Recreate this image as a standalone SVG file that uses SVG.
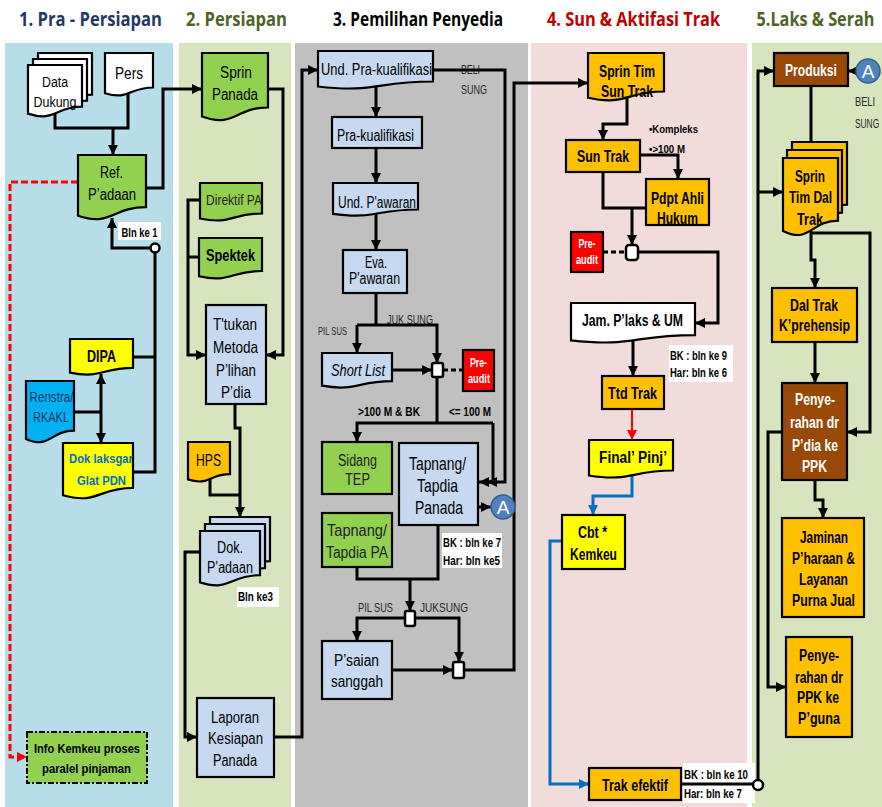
<svg xmlns="http://www.w3.org/2000/svg" width="882" height="807" viewBox="0 0 882 807">
<style>
.n{stroke:#000;stroke-width:2.2}
.g{fill:#92d050}.bl{fill:#c6d9f1}.o{fill:#ffc000}.y{fill:#ffff00}.w{fill:#fff}.r{fill:#ff0000}.br{fill:#984807}.cy{fill:#00b0f0}
.c{fill:none;stroke:#000;stroke-width:3}
.ca{marker-end:url(#ah)}
.t{font-family:"Liberation Sans",Arial,sans-serif;font-size:16px;text-anchor:middle;fill:#000}
.b{font-weight:bold}
.wt{fill:#fff}
.h{font-family:"Open Sans","Liberation Sans",sans-serif;font-size:20px;font-weight:bold;text-anchor:middle}
.lb{font-family:"Liberation Sans",Arial,sans-serif;font-size:12px;font-weight:bold;fill:#000}
.sm{font-family:"Liberation Sans",Arial,sans-serif;font-size:12px;fill:#262626}
.jn{fill:#fff;stroke:#000;stroke-width:2.5}
</style>
<defs>
<marker id="ah" viewBox="0 0 10 10" refX="10" refY="5" markerWidth="10" markerHeight="10" markerUnits="userSpaceOnUse" orient="auto-start-reverse"><path d="M0,0 L10,5 L0,10 z" fill="#000"/></marker>
<marker id="ahr" viewBox="0 0 10 10" refX="10" refY="5" markerWidth="10" markerHeight="10" markerUnits="userSpaceOnUse" orient="auto"><path d="M0,0 L10,5 L0,10 z" fill="#ff0000"/></marker>
<marker id="ahb" viewBox="0 0 10 10" refX="10" refY="5" markerWidth="10" markerHeight="10" markerUnits="userSpaceOnUse" orient="auto"><path d="M0,0 L10,5 L0,10 z" fill="#0070c0"/></marker>
</defs>

<!-- swimlane backgrounds -->
<rect x="0" y="0" width="882" height="807" fill="#fff"/>
<rect x="5" y="43" width="168" height="764" fill="#b7dde8"/>
<rect x="179" y="43" width="112" height="764" fill="#d7e4bd"/>
<rect x="295" y="43" width="233" height="764" fill="#c0c0c0"/>
<rect x="531" y="43" width="216" height="764" fill="#f2dcdb"/>
<rect x="752" y="43" width="130" height="764" fill="#d7e4bd"/>

<!-- lane headings -->
<text class="h" x="90.5" y="26" fill="#1f3864" textLength="143" lengthAdjust="spacingAndGlyphs">1. Pra - Persiapan</text>
<text class="h" x="236.5" y="26" fill="#4f6228" textLength="101" lengthAdjust="spacingAndGlyphs">2. Persiapan</text>
<text class="h" x="418" y="26" fill="#000" textLength="170" lengthAdjust="spacingAndGlyphs">3. Pemilihan Penyedia</text>
<text class="h" x="633.5" y="26" fill="#c00000" textLength="173" lengthAdjust="spacingAndGlyphs">4. Sun &amp; Aktifasi Trak</text>
<text class="h" transform="translate(815.5,26) scale(0.814,1)" x="0" y="0" fill="#4f6228" textLength="145" lengthAdjust="spacingAndGlyphs">5.Laks &amp; Serah</text>

<!-- timing labels -->
<g id="lbl-bln1"><rect x="118" y="222" width="43" height="18" fill="#fff"/><text class="lb" x="139.5" y="237" text-anchor="middle" textLength="36" lengthAdjust="spacingAndGlyphs">Bln ke 1</text></g>
<g id="lbl-bln3"><rect x="237" y="587" width="42" height="20" fill="#fff"/><text class="lb" x="255.5" y="601" text-anchor="middle" textLength="35" lengthAdjust="spacingAndGlyphs">Bln ke3</text></g>
<g id="lbl-bk7"><rect x="442" y="533" width="60" height="35" fill="#fff"/><text class="lb" x="443" y="547" textLength="58" lengthAdjust="spacingAndGlyphs">BK : bln ke 7</text><text class="lb" x="443" y="565" textLength="57" lengthAdjust="spacingAndGlyphs">Har: bln ke5</text></g>
<g id="lbl-bk9"><rect x="669" y="345" width="64" height="37" fill="#fff"/><text class="lb" x="670" y="360" textLength="57" lengthAdjust="spacingAndGlyphs">BK : bln ke 9</text><text class="lb" x="670" y="377" textLength="57" lengthAdjust="spacingAndGlyphs">Har: bln ke 6</text></g>
<g id="lbl-bk10"><rect x="683" y="763" width="72" height="40" fill="#fff"/><text class="lb" x="684" y="779" textLength="64" lengthAdjust="spacingAndGlyphs">BK : bln ke 10</text><text class="lb" x="684" y="798" textLength="58" lengthAdjust="spacingAndGlyphs">Har: bln ke 7</text></g>

<!-- branch captions -->
<g id="captions">
<text class="sm" x="461" y="74" textLength="19" lengthAdjust="spacingAndGlyphs">BELI</text>
<text class="sm" x="461" y="94" textLength="26" lengthAdjust="spacingAndGlyphs">SUNG</text>
<text class="sm" x="318" y="335" textLength="29" lengthAdjust="spacingAndGlyphs" style="font-size:11px">PIL SUS</text>
<text class="sm" x="387" y="324" textLength="46" lengthAdjust="spacingAndGlyphs">JUK SUNG</text>
<text class="lb" x="358" y="416" textLength="62" lengthAdjust="spacingAndGlyphs">&gt;100 M &amp; BK</text>
<text class="lb" x="449" y="416" textLength="42" lengthAdjust="spacingAndGlyphs">&lt;= 100 M</text>
<text class="sm" x="358" y="612" textLength="35" lengthAdjust="spacingAndGlyphs">PIL SUS</text>
<text class="sm" x="420" y="612" textLength="48" lengthAdjust="spacingAndGlyphs">JUKSUNG</text>
<text class="lb" x="649" y="133" textLength="49" lengthAdjust="spacingAndGlyphs" style="font-size:11px">•Kompleks</text>
<text class="lb" x="649" y="153" textLength="36" lengthAdjust="spacingAndGlyphs" style="font-size:11px">•&gt;100 M</text>
<text class="sm" x="855" y="106" textLength="20" lengthAdjust="spacingAndGlyphs">BELI</text>
<text class="sm" transform="translate(855,128) scale(0.78,1)" x="0" y="0" textLength="31" lengthAdjust="spacingAndGlyphs">SUNG</text>
</g>

<!-- connectors -->
<g id="connectors">
<path class="c" d="M55,114 V128 H128 V93"/>
<path class="c ca" d="M113,128 V155"/>
<path class="c ca" d="M146,188 H163 V89 H202"/>
<path d="M78,182 H10 V757 H27" fill="none" stroke="#ff0000" stroke-width="3" stroke-dasharray="7,3" marker-end="url(#ahr)"/>
<path class="c ca" d="M150,248 H112 V218"/>
<path class="c" d="M155,253 V472 H133"/>
<path class="c" d="M133,357 H155"/>
<path class="c" d="M74,412 H101"/>
<path class="c ca" d="M101,374 V443" marker-start="url(#ah)"/>
<path class="c ca" d="M268,89 H283 V355 H266"/>
<path class="c ca" d="M200,200 H188 V355 H206"/>
<path class="c" d="M199,257 H188"/>
<path class="c ca" d="M235,404 V428 H240 V517"/>
<path class="c" d="M210,479 V495 H240"/>
<path class="c ca" d="M200,552 H185 V737 H197"/>
<path class="c ca" d="M274,737 H302 V70 H318"/>
<path class="c ca" d="M376,87 V117"/>
<path class="c ca" d="M376,148 V183"/>
<path class="c ca" d="M376,214 V250"/>
<path class="c" d="M376,293 V325"/>
<path class="c ca" d="M357,325 H437 V363"/>
<path class="c ca" d="M357,325 V353"/>
<path class="c ca" d="M392,370 H432"/>
<path d="M443,370 H463" fill="none" stroke="#000" stroke-width="3" stroke-dasharray="5,3"/>
<path class="c" d="M437,377 V423"/>
<path class="c ca" d="M493,423 H357 V442"/>
<path class="c ca" d="M493,423 V482 H479"/>
<path class="c ca" d="M433,70 H505 V482 H487"/>
<path class="c ca" d="M478,507 H491"/>
<path class="c" d="M357,567 V579 H438 V525"/>
<path class="c ca" d="M410,579 V611"/>
<path class="c ca" d="M405,618 H357 V641"/>
<path class="c ca" d="M415,618 H459 V662"/>
<path class="c ca" d="M392,670 H453"/>
<path class="c ca" d="M464,670 H514 V83 H588"/>
<path class="c ca" d="M627,98 V124 H603 V140"/>
<path class="c ca" d="M640,155 H678 V179"/>
<path class="c" d="M603,172 V208 H646"/>
<path class="c ca" d="M632,208 V245"/>
<path d="M603,252 H626" fill="none" stroke="#000" stroke-width="3" stroke-dasharray="5,3"/>
<path class="c ca" d="M638,252 H718 V323 H695"/>
<path class="c ca" d="M633,340 V376"/>
<path d="M632,409 V440" fill="none" stroke="#ff0000" stroke-width="2" marker-end="url(#ahr)"/>
<path d="M632,475 V496 H593 V515" fill="none" stroke="#0070c0" stroke-width="3" marker-end="url(#ahb)"/>
<path d="M562,541 H550 V784 H589" fill="none" stroke="#0070c0" stroke-width="3" marker-end="url(#ahb)"/>
<path class="c" d="M681,784 H753"/>
<path class="c ca" d="M758,780 V71 H774"/>
<path class="c ca" d="M758,192 H783"/>
<path class="c ca" d="M856,71 H848"/>
<path class="c" d="M811,86 V142"/>
<path class="c ca" d="M811,231 V260 H815 V288"/>
<path class="c ca" d="M811,233 H870 V432 H847"/>
<path class="c ca" d="M815,342 V383"/>
<path class="c ca" d="M815,480 V500 H823 V518"/>
<path class="c ca" d="M782,432 H768 V687 H786"/>
<circle cx="155" cy="248" r="4.5" fill="#fff" stroke="#000" stroke-width="2.5"/>
<circle cx="758" cy="785" r="5" fill="#fff" stroke="#000" stroke-width="2.5"/>
</g>

<!-- lane 1 -->
<g id="data-dukung">
<path class="n w" d="M38,53 H92 V94.7 C65,94.7 65,110.6 38,101.6 Z"/>
<path class="n w" d="M33,59 H87 V100.7 C60,100.7 60,116.6 33,107.6 Z"/>
<path class="n w" d="M28,65 H82 V106.7 C55,106.7 55,122.6 28,113.6 Z"/>
<text class="t" x="55" y="87" style="font-size:14px" textLength="26" lengthAdjust="spacingAndGlyphs">Data</text>
<text class="t" x="55" y="107" style="font-size:14px" textLength="43" lengthAdjust="spacingAndGlyphs">Dukung</text>
</g>
<g id="pers">
<path class="n w" d="M105,53 H153 V87.5 C129,87.5 129,100.6 105,93.2 Z"/>
<text class="t" x="129" y="79" textLength="28" lengthAdjust="spacingAndGlyphs">Pers</text>
</g>
<g id="ref-padaan">
<path class="n g" d="M78,155 H146 V207.1 C112,207.1 112,227 78,215.7 Z"/>
<text class="t" x="111.5" y="178" textLength="23" lengthAdjust="spacingAndGlyphs">Ref.</text>
<text class="t" x="112" y="200" textLength="48" lengthAdjust="spacingAndGlyphs">P’adaan</text>
</g>
<g id="dipa">
<path class="n y" d="M70,339 H133 V367.9 C101.5,367.9 101.5,378.9 70,372.6 Z"/>
<text class="t b" x="101.5" y="362" style="font-size:17px" textLength="29" lengthAdjust="spacingAndGlyphs">DIPA</text>
</g>
<g id="renstra">
<path class="n cy" d="M26,381 H74 V430.7 C50,430.7 50,449.6 26,438.9 Z"/>
<text class="t" x="51.5" y="402" style="font-size:14px;fill:#1f3864" textLength="44" lengthAdjust="spacingAndGlyphs">Renstra/</text>
<text class="t" x="51" y="422" style="font-size:14px;fill:#1f3864" textLength="36" lengthAdjust="spacingAndGlyphs">RKAKL</text>
</g>
<g id="dok-laksgar">
<path class="n y" d="M63,443 H133 V487.9 C98,487.9 98,505 63,495.3 Z"/>
<text class="t b" x="101" y="463" style="font-size:13px;fill:#0070c0" textLength="64" lengthAdjust="spacingAndGlyphs">Dok laksgar</text>
<text class="t b" x="101.5" y="485" style="font-size:13px;fill:#0070c0" textLength="49" lengthAdjust="spacingAndGlyphs">Glat PDN</text>
</g>
<g id="info-kemkeu">
<rect x="27" y="732" width="120" height="51" fill="#92d050" stroke="#000" stroke-width="2" stroke-dasharray="6,2,2,2"/>
<text class="t b" x="87" y="753" style="font-size:13px" textLength="106" lengthAdjust="spacingAndGlyphs">Info Kemkeu proses</text>
<text class="t b" x="86.5" y="773" style="font-size:13px" textLength="89" lengthAdjust="spacingAndGlyphs">paralel pinjaman</text>
</g>

<!-- lane 2 -->
<g id="sprin-panada">
<path class="n g" d="M202,53 H268 V107.5 C235,107.5 235,128.3 202,116.5 Z"/>
<text class="t" x="236" y="78" textLength="32" lengthAdjust="spacingAndGlyphs">Sprin</text>
<text class="t" x="235" y="100" textLength="46" lengthAdjust="spacingAndGlyphs">Panada</text>
</g>
<g id="direktif-pa">
<path class="n g" d="M200,183 H262 V213.5 C231,213.5 231,225.1 200,218.5 Z"/>
<text class="t" x="234" y="205" style="font-size:15px;fill:#222" textLength="56" lengthAdjust="spacingAndGlyphs">Direktif PA</text>
</g>
<g id="spektek">
<path class="n g" d="M199,238 H262 V270.9 C230.5,270.9 230.5,283.4 199,276.3 Z"/>
<text class="t b" x="230.5" y="261" textLength="49" lengthAdjust="spacingAndGlyphs">Spektek</text>
</g>
<g id="ttukan-metoda">
<rect class="n bl" x="206" y="305" width="60" height="99"/>
<text class="t" x="235" y="330" style="font-size:17px" textLength="44" lengthAdjust="spacingAndGlyphs">T'tukan</text>
<text class="t" x="235.5" y="353" style="font-size:17px" textLength="45" lengthAdjust="spacingAndGlyphs">Metoda</text>
<text class="t" x="236" y="376" style="font-size:17px" textLength="40" lengthAdjust="spacingAndGlyphs">P’lihan</text>
<text class="t" x="236" y="398" style="font-size:17px" textLength="30" lengthAdjust="spacingAndGlyphs">P’dia</text>
</g>
<g id="hps">
<path class="n o" d="M188,442 H230 V474.1 C209,474.1 209,486.3 188,479.4 Z"/>
<text class="t" x="208.5" y="466" style="font-size:17px" textLength="25" lengthAdjust="spacingAndGlyphs">HPS</text>
</g>
<g id="dok-padaan">
<path class="n bl" d="M210,517 H270 V561.1 C240,561.1 240,577.9 210,568.4 Z"/>
<path class="n bl" d="M205,524 H265 V568.1 C235,568.1 235,584.9 205,575.4 Z"/>
<path class="n bl" d="M200,531 H260 V575.1 C230,575.1 230,591.9 200,582.4 Z"/>
<text class="t" x="230" y="553" textLength="26" lengthAdjust="spacingAndGlyphs">Dok.</text>
<text class="t" x="230" y="573" textLength="46" lengthAdjust="spacingAndGlyphs">P’adaan</text>
</g>
<g id="laporan">
<rect class="n bl" x="197" y="698" width="77" height="79"/>
<text class="t" x="235" y="723" textLength="48" lengthAdjust="spacingAndGlyphs">Laporan</text>
<text class="t" x="235.5" y="744" textLength="55" lengthAdjust="spacingAndGlyphs">Kesiapan</text>
<text class="t" x="235" y="766" textLength="44" lengthAdjust="spacingAndGlyphs">Panada</text>
</g>

<!-- lane 3 -->
<g id="und-prakual">
<path class="n bl" d="M318,51 H433 V81.5 C375.5,81.5 375.5,93.1 318,86.5 Z"/>
<text class="t" x="376.5" y="75" textLength="111" lengthAdjust="spacingAndGlyphs">Und. Pra-kualifikasi</text>
</g>
<g id="prakual">
<rect class="n bl" x="332" y="117" width="90" height="31"/>
<text class="t" x="375.5" y="141" textLength="77" lengthAdjust="spacingAndGlyphs">Pra-kualifikasi</text>
</g>
<g id="und-pawaran">
<path class="n bl" d="M333,183 H418 V209.5 C375.5,209.5 375.5,219.5 333,213.8 Z"/>
<text class="t" x="377" y="208" textLength="78" lengthAdjust="spacingAndGlyphs">Und. P'awaran</text>
</g>
<g id="eva-pawaran">
<rect class="n bl" x="343" y="250" width="64" height="43"/>
<text class="t" x="376" y="268" textLength="22" lengthAdjust="spacingAndGlyphs">Eva.</text>
<text class="t" x="374.5" y="284" textLength="51" lengthAdjust="spacingAndGlyphs">P'awaran</text>
</g>
<g id="short-list">
<path class="n bl" d="M322,353 H392 V381.1 C357,381.1 357,391.7 322,385.7 Z"/>
<text class="t" x="358" y="376" style="font-style:italic" textLength="54" lengthAdjust="spacingAndGlyphs">Short List</text>
</g>
<g id="junction-1"><rect class="jn" x="432" y="363" width="11" height="14" rx="2"/></g>
<g id="preaudit-1">
<rect class="n r" x="463" y="350" width="31" height="41"/>
<text class="t b wt" x="478.5" y="367" style="font-size:13px" textLength="17" lengthAdjust="spacingAndGlyphs">Pre-</text>
<text class="t b wt" x="479" y="383" style="font-size:13px" textLength="22" lengthAdjust="spacingAndGlyphs">audit</text>
</g>
<g id="sidang-tep">
<rect class="n g" x="322" y="442" width="70" height="52"/>
<text class="t" x="357.5" y="466" style="fill:#222" textLength="39" lengthAdjust="spacingAndGlyphs">Sidang</text>
<text class="t" x="357.5" y="485" style="fill:#222" textLength="25" lengthAdjust="spacingAndGlyphs">TEP</text>
</g>
<g id="tapnang-pa">
<rect class="n g" x="322" y="513" width="70" height="54"/>
<text class="t" x="357" y="536" style="fill:#222" textLength="60" lengthAdjust="spacingAndGlyphs">Tapnang/</text>
<text class="t" x="357" y="558" style="fill:#222" textLength="62" lengthAdjust="spacingAndGlyphs">Tapdia PA</text>
</g>
<g id="tapnang-panada">
<rect class="n bl" x="399" y="443" width="79" height="82"/>
<text class="t" x="437.5" y="470" style="font-size:19px" textLength="57" lengthAdjust="spacingAndGlyphs">Tapnang/</text>
<text class="t" x="437.5" y="492" style="font-size:19px" textLength="41" lengthAdjust="spacingAndGlyphs">Tapdia</text>
<text class="t" x="439" y="514" style="font-size:19px" textLength="48" lengthAdjust="spacingAndGlyphs">Panada</text>
</g>
<g id="conn-a-out">
<circle cx="503" cy="507" r="12" fill="#4f81bd" stroke="#385d8a" stroke-width="1.5"/>
<text class="t wt" x="503" y="514" style="font-size:19px">A</text>
</g>
<g id="junction-2"><rect class="jn" x="405" y="611" width="10" height="15" rx="2"/></g>
<g id="psaian-sanggah">
<rect class="n bl" x="322" y="641" width="70" height="58"/>
<text class="t" x="356.5" y="666" textLength="45" lengthAdjust="spacingAndGlyphs">P’saian</text>
<text class="t" x="357" y="687" textLength="52" lengthAdjust="spacingAndGlyphs">sanggah</text>
</g>
<g id="junction-3"><rect class="jn" x="453" y="662" width="11" height="16" rx="2"/></g>

<!-- lane 4 -->
<g id="sprin-tim-sun">
<path class="n o" d="M588,53 H664 V91.5 C626,91.5 626,106.1 588,97.8 Z"/>
<text class="t b" x="627" y="77" textLength="56" lengthAdjust="spacingAndGlyphs">Sprin Tim</text>
<text class="t b" x="627" y="97" textLength="52" lengthAdjust="spacingAndGlyphs">Sun Trak</text>
</g>
<g id="sun-trak">
<rect class="n o" x="566" y="140" width="74" height="32"/>
<text class="t b" x="603" y="162" textLength="52" lengthAdjust="spacingAndGlyphs">Sun Trak</text>
</g>
<g id="pdpt-ahli">
<rect class="n o" x="646" y="179" width="63" height="46"/>
<text class="t b" x="677.5" y="204" textLength="53" lengthAdjust="spacingAndGlyphs">Pdpt Ahli</text>
<text class="t b" x="677.5" y="224" textLength="41" lengthAdjust="spacingAndGlyphs">Hukum</text>
</g>
<g id="preaudit-2">
<rect class="n r" x="571" y="232" width="32" height="40"/>
<text class="t b wt" x="587" y="248" style="font-size:12px" textLength="17" lengthAdjust="spacingAndGlyphs">Pre-</text>
<text class="t b wt" x="587" y="264" style="font-size:12px" textLength="22" lengthAdjust="spacingAndGlyphs">audit</text>
</g>
<g id="junction-4"><rect class="jn" x="626" y="245" width="12" height="15" rx="3"/></g>
<g id="jam-plaks">
<path class="n w" d="M571,303 H695 V335.1 C633,335.1 633,347.3 571,340.4 Z"/>
<text class="t b" x="632.5" y="326" textLength="101" lengthAdjust="spacingAndGlyphs">Jam. P’laks &amp; UM</text>
</g>
<g id="ttd-trak">
<rect class="n o" x="602" y="376" width="62" height="33"/>
<text class="t b" x="632.5" y="399" textLength="49" lengthAdjust="spacingAndGlyphs">Ttd Trak</text>
</g>
<g id="final-pinj">
<path class="n y" d="M589,440 H673 V470.5 C631,470.5 631,482.1 589,475.5 Z"/>
<text class="t b" x="633" y="463" textLength="68" lengthAdjust="spacingAndGlyphs">Final’ Pinj’</text>
</g>
<g id="cbt-kemkeu">
<rect class="n y" x="562" y="515" width="63" height="54"/>
<text class="t b" x="592.5" y="538" textLength="29" lengthAdjust="spacingAndGlyphs">Cbt *</text>
<text class="t b" x="593.5" y="560" textLength="47" lengthAdjust="spacingAndGlyphs">Kemkeu</text>
</g>
<g id="trak-efektif">
<rect class="n o" x="589" y="768" width="92" height="32"/>
<text class="t b" x="635" y="791" textLength="66" lengthAdjust="spacingAndGlyphs">Trak efektif</text>
</g>

<!-- lane 5 -->
<g id="produksi">
<rect class="n br" x="774" y="53" width="74" height="33"/>
<text class="t b wt" x="811" y="76" textLength="52" lengthAdjust="spacingAndGlyphs">Produksi</text>
</g>
<g id="conn-a-in">
<circle cx="868" cy="71" r="12" fill="#4f81bd" stroke="#385d8a" stroke-width="1.5"/>
<text class="t wt" x="868" y="78" style="font-size:19px">A</text>
</g>
<g id="sprin-tim-dal">
<path class="n o" d="M792,142 H847 V204.6 C819.5,204.6 819.5,228.3 792,214.9 Z"/>
<path class="n o" d="M787,150 H842 V212.6 C814.5,212.6 814.5,236.3 787,222.9 Z"/>
<path class="n o" d="M783,158 H838 V220.6 C810.5,220.6 810.5,244.3 783,230.9 Z"/>
<text class="t b" x="810" y="182" textLength="30" lengthAdjust="spacingAndGlyphs">Sprin</text>
<text class="t b" x="810.5" y="203" textLength="43" lengthAdjust="spacingAndGlyphs">Tim Dal</text>
<text class="t b" x="810" y="225" textLength="26" lengthAdjust="spacingAndGlyphs">Trak</text>
</g>
<g id="dal-trak">
<rect class="n o" x="772" y="288" width="85" height="54"/>
<text class="t b" x="814" y="311" textLength="48" lengthAdjust="spacingAndGlyphs">Dal Trak</text>
<text class="t b" x="814.5" y="331" textLength="71" lengthAdjust="spacingAndGlyphs">K’prehensip</text>
</g>
<g id="penyerahan-ppk">
<rect class="n br" x="782" y="383" width="65" height="97"/>
<text class="t b wt" x="815" y="405" textLength="40" lengthAdjust="spacingAndGlyphs">Penye-</text>
<text class="t b wt" x="814.5" y="428" textLength="49" lengthAdjust="spacingAndGlyphs">rahan dr</text>
<text class="t b wt" x="815" y="451" textLength="46" lengthAdjust="spacingAndGlyphs">P’dia ke</text>
<text class="t b wt" x="814.5" y="472" textLength="25" lengthAdjust="spacingAndGlyphs">PPK</text>
</g>
<g id="jaminan">
<rect class="n o" x="782" y="518" width="82" height="99"/>
<text class="t b" x="824" y="543" textLength="48" lengthAdjust="spacingAndGlyphs">Jaminan</text>
<text class="t b" x="823.5" y="564" textLength="63" lengthAdjust="spacingAndGlyphs">P’haraan &amp;</text>
<text class="t b" x="823.5" y="585" textLength="49" lengthAdjust="spacingAndGlyphs">Layanan</text>
<text class="t b" x="823.5" y="606" textLength="63" lengthAdjust="spacingAndGlyphs">Purna Jual</text>
</g>
<g id="penyerahan-pguna">
<rect class="n o" x="786" y="637" width="66" height="100"/>
<text class="t b" x="819" y="661" textLength="40" lengthAdjust="spacingAndGlyphs">Penye-</text>
<text class="t b" x="819" y="683" textLength="48" lengthAdjust="spacingAndGlyphs">rahan dr</text>
<text class="t b" x="818" y="703" textLength="42" lengthAdjust="spacingAndGlyphs">PPK ke</text>
<text class="t b" x="819" y="724" textLength="42" lengthAdjust="spacingAndGlyphs">P’guna</text>
</g>
</svg>
